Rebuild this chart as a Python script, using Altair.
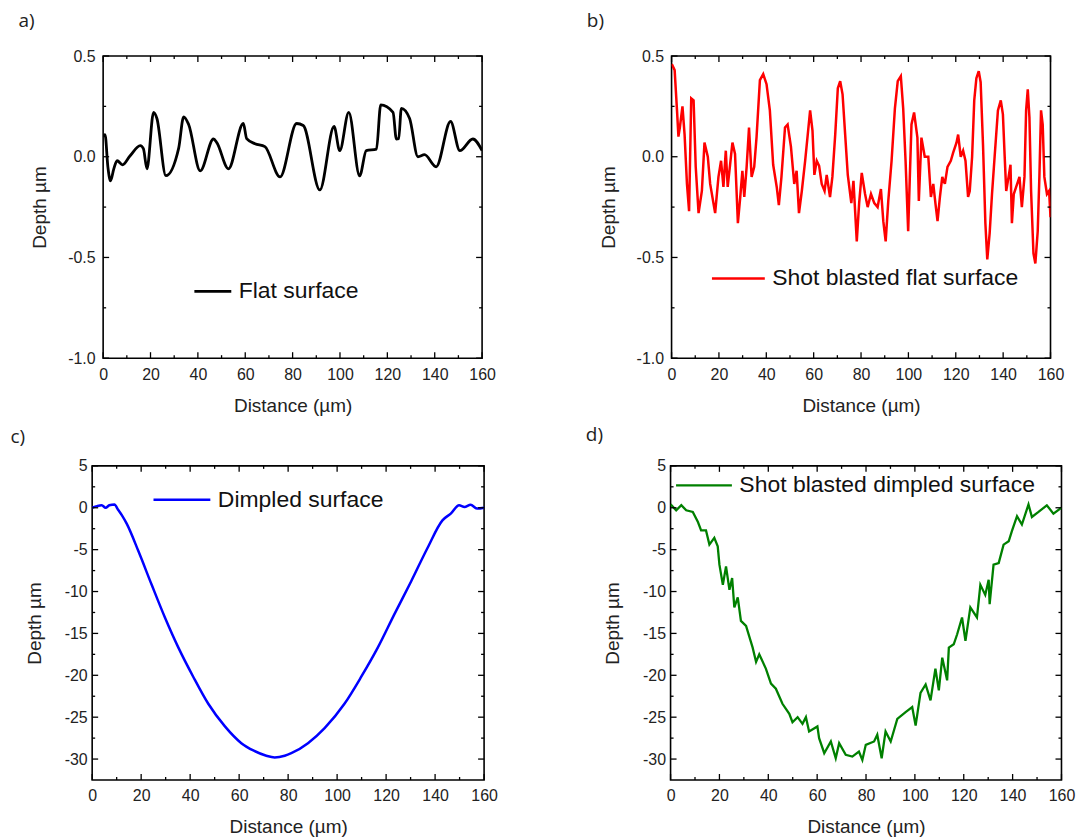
import altair as alt
import pandas as pd

# ---------------- data ----------------
a_x = [0, 0.8, 2, 3.1, 4.5, 5.9, 8.2, 11.4, 15.7, 17, 18.5, 21.3, 22.7, 26.5, 31.9, 34, 36.1, 41, 46.6, 48,
       52.9, 59.2, 60.6, 64.1, 68.3, 74.7, 81.7, 84.5, 91.5, 97.5, 99.9, 103.7, 108.3, 111.1, 115.4, 117.2,
       122.4, 123.8, 124.8, 125.9, 129.4, 132.9, 135.7, 140.6, 146.7, 150.6, 156.1, 160]
a_y = [0.10, 0.11, -0.05, -0.12, -0.06, -0.02, -0.04, 0.005, 0.055, 0.04, -0.06, 0.22, 0.19, -0.094, 0.043,
       0.198, 0.16, -0.07, 0.088, 0.07, -0.06, 0.165, 0.09, 0.065, 0.05, -0.10, 0.165, 0.155, -0.165, 0.15,
       0.03, 0.22, -0.095, 0.03, 0.038, 0.257, 0.22, 0.088, 0.09, 0.24, 0.19, 0.0, 0.01, -0.05, 0.175, 0.03,
       0.088, 0.03]

b_x = [0.1, 1.3, 2.3, 2.9, 3.5, 4.6, 5.5, 6.5, 7.4, 8.3, 9.3, 10.2, 11.4, 12.8, 13.9, 15.3, 16.3, 18.4, 19.8,
       20.9, 21.9, 22.9, 23.7, 24.7, 25.7, 26.8, 28, 29, 29.9, 30.7, 31.7, 32.7, 33.8, 34.9, 35.9, 37.3, 38.7,
       40.1, 41.5, 42.9, 44.4, 45.3, 46.4, 47.9, 49, 50.4, 51.8, 52.8, 53.8, 55, 56.4, 57.5, 58.5, 59.5, 60.3,
       61.3, 62.3, 63.4, 64.6, 65.5, 66.9, 67.9, 69.1, 70.2, 71.2, 72.2, 73.3, 74.4, 75.9, 76.8, 78.2, 79.2,
       80.3, 81.7, 82.8, 84.2, 85.6, 87, 88.4, 89.4, 90.4, 91.5, 92.9, 94.3, 95.5, 96.8, 97.8, 98.8, 99.9,
       100.6, 101.3, 102.4, 103.8, 104.4, 105.5, 106.9, 108.4, 109.5, 110.5, 111.4, 112.3, 113.3, 114.3,
       115.4, 116.5, 117.9, 118.9, 120.3, 121, 122.1, 123.1, 124.1, 125.2, 125.9, 126.9, 127.8, 128.7, 129.7,
       130.5, 131.5, 132.5, 133.3, 134.3, 135.3, 136.4, 137.8, 139, 139.9, 140.6, 141.3, 142.3, 143.1, 143.7,
       144.5, 145.5, 146.9, 147.9, 149, 149.7, 150.4, 151.1, 151.8, 152.8, 153.6, 154.6, 155.3, 156, 156.7,
       157.4, 158.5, 159.4, 160]
b_y = [0.46, 0.43, 0.23, 0.10, 0.145, 0.25, 0.11, -0.135, -0.27, 0.29, 0.28, -0.05, -0.28, -0.17, 0.07, 0.0,
       -0.135, -0.28, -0.10, -0.02, -0.15, 0.03, -0.15, -0.04, 0.07, 0.014, -0.33, -0.20, -0.07, -0.20, -0.05,
       0.145, -0.10, -0.05, 0.10, 0.38, 0.41, 0.36, 0.23, -0.04, -0.15, -0.24, -0.10, 0.145, 0.16, 0.05,
       -0.135, -0.07, -0.28, -0.17, -0.02, 0.11, 0.23, 0.13, -0.09, -0.02, -0.045, -0.135, -0.17, -0.09,
       -0.20, -0.10, 0.11, 0.34, 0.375, 0.31, 0.11, -0.09, -0.23, -0.12, -0.42, -0.23, -0.08, -0.185, -0.25,
       -0.185, -0.23, -0.25, -0.16, -0.32, -0.42, -0.22, -0.02, 0.24, 0.375, 0.40, 0.24, -0.02, -0.37, -0.10,
       0.16, 0.22, 0.095, -0.22, 0.095, 0.0, 0.0, -0.20, -0.135, -0.23, -0.32, -0.20, -0.10, -0.135, -0.05,
       -0.02, 0.02, 0.07, 0.11, 0.0, 0.03, -0.02, -0.20, -0.17, 0.0, 0.28, 0.39, 0.425, 0.37, 0.06, -0.33,
       -0.51, -0.38, -0.185, 0.0, 0.23, 0.28, 0.21, 0.014, -0.17, -0.10, -0.04, -0.33, -0.185, -0.15, -0.10,
       -0.25, -0.10, 0.23, 0.335, 0.195, -0.17, -0.48, -0.53, -0.37, -0.10, 0.23, 0.16, -0.10, -0.185, -0.17,
       -0.30]

c_x = [0, 2, 3.9, 5.5, 7, 9.1, 10.5, 12.1, 14.1, 18.9, 24.3, 29.7, 35.2, 41.3, 47.4, 54.2, 60.9, 66, 71.1,
       74.5, 78.6, 81.3, 88.1, 94.9, 103, 109.8, 116.6, 123.4, 130.2, 136.9, 143, 146.4, 149.8, 152, 154.5,
       157.2, 160]
c_y = [0.0, 0.2, 0.3, 0.0, 0.3, 0.4, -0.2, -0.87, -1.9, -5.2, -9.2, -13.1, -16.7, -20.2, -23.4, -26.1, -28.1,
       -29.0, -29.6, -29.8, -29.6, -29.3, -28.1, -26.3, -23.4, -20.2, -16.7, -12.7, -8.8, -4.8, -1.5, -0.7,
       0.3, 0.1, 0.35, -0.1, 0.0]

d_x = [0, 2.3, 4.4, 6.4, 9.1, 11.2, 12.5, 14.5, 15.9, 17.9, 19.3, 20, 21.4, 22.7, 24.1, 25.2, 26.1, 27.5,
       28.8, 30.9, 33.6, 35, 36.3, 39, 41.1, 43.1, 45.8, 48.6, 49.9, 52, 54, 55.4, 56.7, 60.1, 60.8, 62.9,
       65.6, 67.6, 69, 71.7, 74.4, 77.1, 78.5, 79.9, 83.3, 84.6, 86.4, 88, 90.1, 92.8, 96.2, 98.9, 100.3,
       102.3, 104.4, 106.4, 108.4, 109.8, 111.2, 113.2, 113.9, 115.9, 117.3, 119.3, 120.7, 122.7, 125.4,
       126.8, 128.8, 130.2, 130.6, 132.2, 134.3, 136.3, 138.4, 139.7, 141.8, 143.8, 146.5, 147.9, 150.6,
       154, 156.7, 160]
d_y = [0.4, -0.3, 0.3, -0.3, -0.5, -1.7, -2.7, -2.7, -4.4, -3.6, -4.6, -6.8, -9.2, -7.0, -9.8, -8.4, -11.9,
       -10.7, -13.5, -14.1, -16.7, -18.4, -17.5, -19.2, -21.0, -21.6, -23.4, -24.6, -25.6, -25.0, -25.8,
       -25.0, -26.7, -26.1, -27.5, -29.3, -27.9, -29.9, -28.1, -29.5, -29.7, -29.1, -30.1, -28.3, -27.9,
       -27.1, -29.9, -26.7, -27.9, -25.2, -24.4, -23.8, -26.0, -22.1, -21.1, -23.0, -19.2, -21.8, -17.9,
       -20.6, -16.7, -16.3, -15.1, -13.1, -15.9, -11.9, -13.1, -9.2, -10.4, -8.6, -11.5, -6.8, -6.6, -4.4,
       -4.0, -2.8, -1.0, -2.0, 0.4, -1.1, -0.5, 0.3, -0.7, 0.0]

x_major = [0, 20, 40, 60, 80, 100, 120, 140, 160]
x_minor = [10, 30, 50, 70, 90, 110, 130, 150]
y_major_top = [0.5, 0.0, -0.5, -1.0]
y_minor_top = [0.25, -0.25, -0.75]
y_major_bot = [5, 0, -5, -10, -15, -20, -25, -30]
y_minor_bot = [2.5, -2.5, -7.5, -12.5, -17.5, -22.5, -27.5]

FONT = "Liberation Sans"
TXT = "#222222"


def panel(xs, ys, name, color, sw, interp, ydom, ymaj, ymin, yfmt, W, H, label, title_dx, title_off,
          leg_x, leg_y, sym_len, lab_pad, tit_pad):
    df = pd.DataFrame({"x": xs, "y": ys, "s": [name] * len(xs)})
    xsc = alt.Scale(domain=[0, 160], nice=False, zero=False)
    ysc = alt.Scale(domain=ydom, nice=False, zero=False)
    if yfmt == "1f":
        lab = "datum.value < 0 ? '-' + format(-datum.value, '.1f') : format(datum.value, '.1f')"
    else:
        lab = "datum.value < 0 ? '-' + format(-datum.value, 'd') : format(datum.value, 'd')"
    xax = alt.Axis(values=x_major, title="Distance (µm)", labelPadding=8, titlePadding=14, format="d",
                   labelFlush=False)
    yax = alt.Axis(values=ymaj, title="Depth µm", labelExpr=lab, labelPadding=lab_pad, titlePadding=tit_pad,
                   labelFlush=False)
    line = alt.Chart(df).mark_line(strokeWidth=sw, clip=True, interpolate=interp).encode(
        x=alt.X("x:Q", scale=xsc, axis=xax),
        y=alt.Y("y:Q", scale=ysc, axis=yax),
        color=alt.Color("s:N", scale=alt.Scale(domain=[name], range=[color]),
                        legend=alt.Legend(orient="none", legendX=leg_x, legendY=leg_y, title=None,
                                          symbolType="stroke", symbolStrokeWidth=sw,
                                          symbolSize=sym_len * sym_len, labelFontSize=23,
                                          labelFont=FONT, labelColor="#111111", labelOffset=6,
                                          labelLimit=500, padding=0)),
    )
    layers = [line]
    for vals, L, axis_ch in [(x_major, 6, "x"), (x_minor, 3, "x"), (ymaj, 6, "y"), (ymin, 3, "y")]:
        tdf = pd.DataFrame({"x": vals, "y": vals})
        if axis_ch == "x":
            enc = alt.X("x:Q", scale=xsc, axis=xax)
            layers.append(alt.Chart(tdf).mark_rule(color="black", strokeWidth=1.3).encode(
                x=enc, y=alt.value(H), y2=alt.value(H - L)))
            layers.append(alt.Chart(tdf).mark_rule(color="black", strokeWidth=1.3).encode(
                x=enc, y=alt.value(0), y2=alt.value(L)))
        else:
            enc = alt.Y("y:Q", scale=ysc, axis=yax)
            layers.append(alt.Chart(tdf).mark_rule(color="black", strokeWidth=1.3).encode(
                y=enc, x=alt.value(0), x2=alt.value(L)))
            layers.append(alt.Chart(tdf).mark_rule(color="black", strokeWidth=1.3).encode(
                y=enc, x=alt.value(W), x2=alt.value(W - L)))
    return alt.layer(*layers).properties(
        width=W, height=H,
        title=alt.TitleParams(label, anchor="start", frame="group", dx=title_dx, offset=title_off,
                              font="Open Sans", fontSize=19, fontWeight="normal", color=TXT),
    )


pa = panel(a_x, a_y, "Flat surface", "#000000", 2.8, "monotone", [-1.0, 0.5], y_major_top, y_minor_top,
           "1f", 380, 303, "a)", -85, 17, 90, 216, 37, 8, 18)
pb = panel(b_x, b_y, "Shot blasted flat surface", "#ff0000", 2.5, "linear", [-1.0, 0.5], y_major_top,
           y_minor_top, "1f", 380, 303, "b)", -85, 17, 39, 195, 53, 8, 18)
pc = panel(c_x, c_y, "Dimpled surface", "#0000ff", 2.5, "monotone", [-32.5, 5], y_major_bot, y_minor_bot,
           "d", 393, 315, "c)", -82, 11, 60, 4, 57, 5, 20)
pd_ = panel(d_x, d_y, "Shot blasted dimpled surface", "#008000", 2.3, "linear", [-32.5, 5], y_major_bot,
            y_minor_bot, "d", 392, 315, "d)", -85, 11, 4, -10, 56, 5, 20)

top = alt.hconcat(pa, pb, spacing=89).resolve_scale(color="independent").resolve_legend(color="independent")
bot = alt.hconcat(pc, pd_, spacing=86).resolve_scale(color="independent").resolve_legend(color="independent")

chart = alt.vconcat(top, bot, spacing=9, center=True).resolve_scale(
    color="independent").resolve_legend(color="independent").configure_view(
    stroke="black", strokeWidth=1.6).configure_axis(
    labelFont=FONT, labelFontSize=16, titleFont=FONT, titleFontSize=19, titleFontWeight="normal",
    labelColor=TXT, titleColor=TXT, domain=False, ticks=False, grid=False).properties(
    padding={"left": 9, "top": 10, "right": 5, "bottom": 5}, background="white")

chart.save("out.html", embed_options={"renderer": "svg", "actions": False})
